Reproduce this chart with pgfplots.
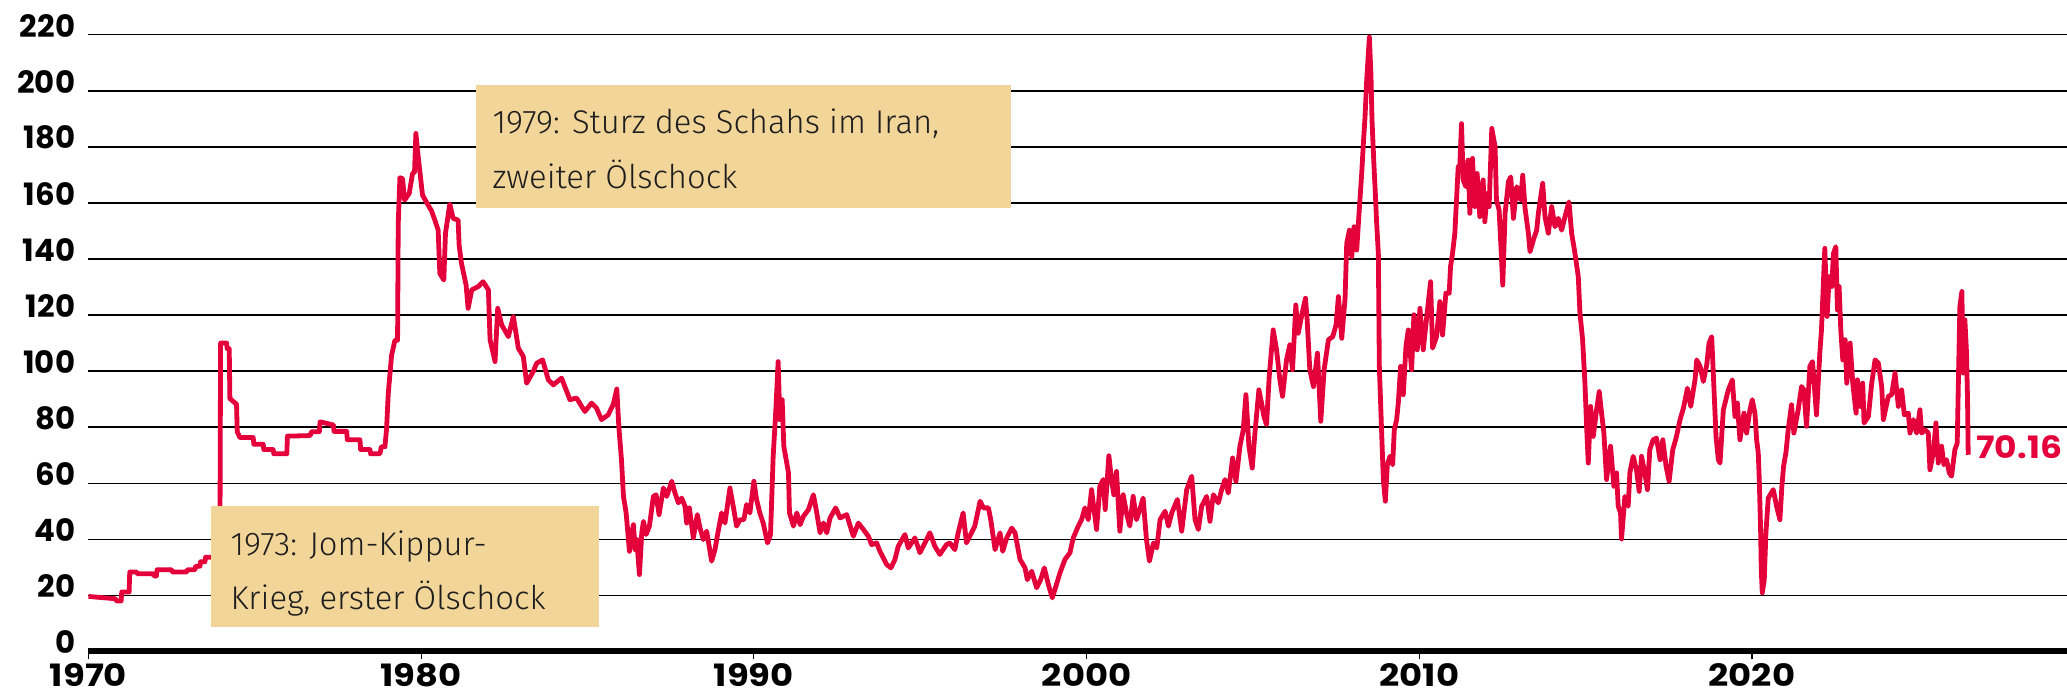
\documentclass[border=0pt]{standalone}
\usepackage{fontspec}
\setmainfont{Poppins}[Numbers=Monospaced]
\newfontfamily\annotfont{Fira Sans Light}
\usepackage{graphicx}
\usepackage{pgfplots}
\usepackage{pgfplotstable}
\pgfplotsset{compat=1.18}
\definecolor{oilred}{RGB}{228,0,58}
\definecolor{boxfill}{RGB}{242,213,152}
\definecolor{txt}{RGB}{30,30,30}
\newcommand{\wlab}[1]{\scalebox{1.15}[1]{#1}}
\pgfplotstableread{
t v
1970.00 19.6
1970.80 18.8
1970.85 18.0
1970.98 18.0
1971.00 21.2
1971.22 21.2
1971.24 28.3
1971.45 28.3
1971.47 27.7
1971.95 27.7
1971.97 26.9
1972.04 26.9
1972.06 29.1
1972.50 29.1
1972.52 28.3
1972.95 28.3
1972.97 29.1
1973.20 29.1
1973.22 30.4
1973.35 30.4
1973.37 32.0
1973.50 32.0
1973.52 33.6
1973.95 33.6
1973.97 110.0
1974.15 110.0
1974.17 108.0
1974.23 108.0
1974.25 90.2
1974.45 88.2
1974.47 78.4
1974.55 76.3
1974.95 76.3
1974.97 73.9
1975.25 73.9
1975.27 72.0
1975.55 72.0
1975.57 70.5
1975.96 70.5
1975.98 76.8
1976.66 77.0
1976.71 78.4
1976.94 78.4
1976.96 81.9
1977.36 80.8
1977.38 78.5
1977.76 78.5
1977.78 75.5
1978.16 75.5
1978.18 72.0
1978.46 72.0
1978.48 70.5
1978.76 70.5
1978.80 73.0
1978.91 73.0
1978.96 79.5
1979.01 92.0
1979.11 105.6
1979.21 111.0
1979.29 111.0
1979.31 152.6
1979.36 169.0
1979.44 168.7
1979.50 161.0
1979.64 163.4
1979.74 170.5
1979.80 171.0
1979.84 184.8
1979.91 176.5
1980.04 162.8
1980.21 159.2
1980.31 157.2
1980.41 153.9
1980.51 150.3
1980.56 134.9
1980.68 132.5
1980.73 149.2
1980.86 159.6
1980.96 154.5
1981.11 153.9
1981.14 145.0
1981.21 138.5
1981.35 130.7
1981.41 122.4
1981.52 129.0
1981.72 130.2
1981.86 131.9
1982.02 129.0
1982.07 111.2
1982.22 103.4
1982.30 122.4
1982.42 116.5
1982.62 112.3
1982.77 119.5
1982.92 108.2
1983.07 105.2
1983.17 95.7
1983.37 99.9
1983.47 102.8
1983.65 104.0
1983.82 96.9
1983.97 95.1
1984.22 97.5
1984.47 89.8
1984.67 90.4
1984.92 85.6
1985.12 88.6
1985.27 86.8
1985.42 82.7
1985.62 84.4
1985.77 88.0
1985.88 93.6
1985.94 80.3
1986.02 68.4
1986.08 55.3
1986.16 49.4
1986.26 35.7
1986.33 42.3
1986.38 45.2
1986.43 36.3
1986.48 39.9
1986.56 27.4
1986.63 42.3
1986.68 46.4
1986.76 41.7
1986.86 44.7
1986.98 55.3
1987.06 55.9
1987.15 48.8
1987.28 58.3
1987.38 55.3
1987.53 60.7
1987.63 56.5
1987.73 53.0
1987.83 54.7
1987.93 51.8
1987.98 45.8
1988.06 51.2
1988.18 40.5
1988.30 48.8
1988.38 44.0
1988.48 39.9
1988.58 42.9
1988.73 32.2
1988.83 36.3
1988.90 41.1
1989.03 49.4
1989.13 45.8
1989.28 58.3
1989.38 51.8
1989.48 44.7
1989.58 47.0
1989.70 47.0
1989.78 52.4
1989.88 49.4
1990.00 60.7
1990.08 54.2
1990.18 49.4
1990.28 45.8
1990.41 38.7
1990.50 41.7
1990.58 69.6
1990.66 86.2
1990.73 103.4
1990.78 82.7
1990.85 89.8
1990.90 73.2
1991.04 63.7
1991.07 49.4
1991.19 44.7
1991.29 49.4
1991.39 45.2
1991.49 48.2
1991.64 50.6
1991.79 55.9
1991.89 49.4
1991.99 42.3
1992.09 45.8
1992.19 42.3
1992.29 47.6
1992.46 51.2
1992.59 47.6
1992.79 48.8
1992.99 41.1
1993.14 45.8
1993.29 43.5
1993.44 41.1
1993.54 38.1
1993.69 38.7
1993.79 35.7
1993.99 31.0
1994.12 29.8
1994.24 32.8
1994.34 37.5
1994.54 41.7
1994.64 36.9
1994.84 40.5
1994.99 35.2
1995.14 38.7
1995.29 42.3
1995.44 37.5
1995.59 34.6
1995.79 38.1
1995.89 38.7
1996.04 36.3
1996.14 42.3
1996.29 49.4
1996.39 38.7
1996.54 42.3
1996.64 44.7
1996.80 53.6
1996.90 51.2
1997.05 51.2
1997.12 47.0
1997.25 36.3
1997.40 42.3
1997.48 35.7
1997.60 40.5
1997.75 44.0
1997.85 42.3
1998.00 32.8
1998.15 29.8
1998.22 25.6
1998.35 28.6
1998.50 22.7
1998.62 25.6
1998.73 29.8
1998.85 23.9
1998.97 19.1
1999.08 23.3
1999.20 28.0
1999.35 32.8
1999.50 35.2
1999.60 40.5
1999.75 44.7
1999.85 47.0
1999.95 51.2
2000.05 47.0
2000.15 57.7
2000.30 43.5
2000.40 58.9
2000.50 61.3
2000.56 50.6
2000.67 69.8
2000.75 61.3
2000.82 55.9
2000.90 64.2
2001.00 42.9
2001.10 55.9
2001.20 49.4
2001.30 44.7
2001.40 55.3
2001.50 47.0
2001.60 50.6
2001.70 54.7
2001.80 39.9
2001.89 32.2
2002.01 38.7
2002.11 36.9
2002.21 47.0
2002.36 50.0
2002.46 44.7
2002.56 49.4
2002.73 54.2
2002.86 42.9
2003.01 57.7
2003.16 62.5
2003.26 47.0
2003.36 43.5
2003.46 51.8
2003.61 55.3
2003.71 46.4
2003.81 55.9
2003.96 53.0
2004.06 57.7
2004.16 61.3
2004.26 56.5
2004.39 69.0
2004.49 60.7
2004.61 73.2
2004.71 79.1
2004.79 91.6
2004.88 73.2
2004.98 65.4
2005.06 77.9
2005.18 93.3
2005.26 88.6
2005.33 83.8
2005.41 80.9
2005.49 98.1
2005.61 114.7
2005.71 107.6
2005.81 96.9
2005.89 91.0
2006.01 104.0
2006.11 109.4
2006.19 100.5
2006.29 123.6
2006.36 113.5
2006.49 121.2
2006.58 126.0
2006.63 118.3
2006.71 100.5
2006.82 94.5
2006.94 106.4
2007.04 82.1
2007.14 100.5
2007.27 111.2
2007.40 112.3
2007.50 116.5
2007.57 126.6
2007.67 111.7
2007.77 126.0
2007.82 145.6
2007.90 150.3
2007.97 140.8
2008.04 151.5
2008.12 143.2
2008.19 156.3
2008.27 170.5
2008.32 181.2
2008.37 190.7
2008.42 203.8
2008.50 219.2
2008.55 205.0
2008.58 189.5
2008.64 172.9
2008.67 165.8
2008.72 152.7
2008.77 142.0
2008.80 101.7
2008.87 77.9
2008.92 61.3
2008.98 53.6
2009.04 66.6
2009.12 69.6
2009.20 66.6
2009.25 79.1
2009.32 82.7
2009.37 88.6
2009.44 101.7
2009.52 91.6
2009.60 108.8
2009.67 114.7
2009.77 100.5
2009.84 120.1
2009.94 107.6
2010.02 122.4
2010.12 107.6
2010.22 118.9
2010.34 131.9
2010.40 108.2
2010.52 112.3
2010.62 124.8
2010.70 112.9
2010.80 127.8
2010.90 127.8
2010.94 137.3
2011.00 142.0
2011.07 149.2
2011.17 172.9
2011.22 173.5
2011.27 188.3
2011.32 168.2
2011.40 165.8
2011.47 175.3
2011.52 156.3
2011.60 175.9
2011.67 158.7
2011.74 170.5
2011.82 155.1
2011.92 168.2
2011.97 153.3
2012.04 163.4
2012.10 158.7
2012.18 186.6
2012.28 180.0
2012.32 161.0
2012.40 157.5
2012.46 143.2
2012.51 130.7
2012.58 156.3
2012.68 167.6
2012.75 169.3
2012.83 154.5
2012.93 165.8
2013.05 161.0
2013.11 169.9
2013.18 158.1
2013.28 149.2
2013.33 142.6
2013.43 146.8
2013.53 150.3
2013.58 156.3
2013.71 167.0
2013.78 155.1
2013.88 149.2
2013.98 158.7
2014.08 151.5
2014.18 154.5
2014.28 150.3
2014.38 155.1
2014.50 160.4
2014.58 149.2
2014.68 142.0
2014.78 133.7
2014.83 120.7
2014.91 111.2
2014.98 95.7
2015.03 80.3
2015.08 67.2
2015.15 87.4
2015.23 76.7
2015.33 86.2
2015.41 92.7
2015.48 85.0
2015.55 77.9
2015.63 61.3
2015.75 73.2
2015.85 58.9
2015.93 63.7
2015.98 51.8
2016.05 49.4
2016.08 40.1
2016.18 55.3
2016.28 51.8
2016.33 63.7
2016.43 69.6
2016.53 64.8
2016.61 57.1
2016.68 69.6
2016.78 63.7
2016.86 57.7
2016.93 72.0
2017.03 75.5
2017.13 76.1
2017.24 68.4
2017.32 75.5
2017.42 66.0
2017.51 60.7
2017.62 72.0
2017.72 76.1
2017.84 82.7
2017.94 86.8
2018.06 93.9
2018.16 87.4
2018.29 97.0
2018.34 104.0
2018.44 101.7
2018.54 96.3
2018.64 102.2
2018.71 110.0
2018.79 112.3
2018.86 93.3
2018.92 76.7
2018.99 68.4
2019.04 67.2
2019.14 86.2
2019.29 93.3
2019.41 96.9
2019.49 83.8
2019.56 88.6
2019.64 75.5
2019.76 85.0
2019.84 77.9
2019.94 86.2
2020.01 89.8
2020.09 85.0
2020.14 75.5
2020.19 70.8
2020.22 61.3
2020.26 43.5
2020.28 29.2
2020.31 20.9
2020.37 25.6
2020.42 42.3
2020.49 54.7
2020.64 57.7
2020.74 51.8
2020.84 47.0
2020.90 58.9
2020.95 66.0
2021.02 70.8
2021.09 79.1
2021.19 88.0
2021.26 77.9
2021.39 86.2
2021.49 94.5
2021.56 93.3
2021.64 80.3
2021.74 101.7
2021.82 103.4
2021.94 84.4
2022.04 106.4
2022.09 114.7
2022.19 143.8
2022.26 119.5
2022.32 133.7
2022.40 130.2
2022.45 142.0
2022.52 144.4
2022.57 121.8
2022.62 130.2
2022.67 114.7
2022.73 104.0
2022.80 111.2
2022.85 95.7
2022.95 110.0
2023.03 95.7
2023.13 85.0
2023.17 96.9
2023.25 87.4
2023.33 95.7
2023.37 81.5
2023.50 83.8
2023.60 95.7
2023.70 104.0
2023.80 102.8
2023.90 94.5
2023.95 82.7
2024.10 91.0
2024.20 91.6
2024.30 99.3
2024.40 87.4
2024.50 93.3
2024.58 84.4
2024.70 85.0
2024.75 77.9
2024.85 82.7
2024.95 77.9
2025.05 86.2
2025.10 77.9
2025.20 79.1
2025.30 77.9
2025.35 64.8
2025.45 70.8
2025.53 81.5
2025.60 67.2
2025.70 73.2
2025.77 66.6
2025.85 68.4
2025.93 63.7
2026.00 62.5
2026.10 72.0
2026.17 74.3
2026.21 99.3
2026.25 123.0
2026.31 128.4
2026.35 99.3
2026.40 118.3
2026.45 106.4
2026.48 89.8
2026.50 70.16
}\oil
\begin{document}
\begin{tikzpicture}
\useasboundingbox (-44.25pt,-21.8pt) rectangle (989.25pt,325.7pt);
\begin{axis}[
  at={(0pt,0pt)}, anchor=south west,
  scale only axis,
  width=989.25pt, height=308.3pt,
  xmin=1970, xmax=2029.47,
  ymin=0, ymax=220,
  clip=false,
  axis x line*=bottom,
  axis y line*=left,
  y axis line style={draw=none},
  x axis line style={line width=3pt, black},
  xtick={1970,1980,1990,2000,2010,2020},
  xticklabels={\wlab{1970},\wlab{1980},\wlab{1990},\wlab{2000},\wlab{2010},\wlab{2020}},
  ytick={0,20,40,60,80,100,120,140,160,180,200,220},
  yticklabels={0,20,40,60,80,100,120,140,160,180,200,220},
  tick align=outside,
  major tick length=4pt,
  xtick style={black, line width=0.6pt},
  ytick style={draw=none},
  ymajorgrids,
  major grid style={black, line width=0.7pt},
  ticklabel style={font=\bfseries\fontsize{15.4pt}{18pt}\selectfont, text=black},
  xticklabel style={anchor=north, inner sep=0pt, yshift=-2pt},
  yticklabel style={anchor=east, inner sep=0pt, xshift=-2.5pt, yshift=4.6pt},
  /pgf/number format/assume math mode=true,
]
\addplot[oilred, line width=2.4pt, line join=round, mark=none] table[x=t, y=v] {\oil};
\end{axis}
% annotation boxes
\fill[boxfill] (61.25pt,12.2pt) rectangle (255.25pt,72.7pt);
\node[anchor=base west, inner sep=0pt, text=txt, font=\annotfont\fontsize{16.4pt}{20pt}\selectfont] at (70.8pt,47.7pt) {1973: Jom-Kippur-};
\node[anchor=base west, inner sep=0pt, text=txt, font=\annotfont\fontsize{16.4pt}{20pt}\selectfont] at (70.8pt,21.05pt) {Krieg, erster Ölschock};
\fill[boxfill] (193.6pt,221.85pt) rectangle (461.25pt,283.2pt);
\node[anchor=base west, inner sep=0pt, text=txt, font=\annotfont\fontsize{16.4pt}{20pt}\selectfont] at (201.8pt,258.7pt) {1979: Sturz des Schahs im Iran,};
\node[anchor=base west, inner sep=0pt, text=txt, font=\annotfont\fontsize{16.4pt}{20pt}\selectfont] at (201.8pt,231.55pt) {zweiter Ölschock};
\node[anchor=base west, inner sep=0pt, text=oilred, font=\bfseries\fontsize{15.4pt}{18pt}\selectfont] at (943.75pt,96.2pt) {\scalebox{1.12}[1]{70.16}};
\end{tikzpicture}
\end{document}
